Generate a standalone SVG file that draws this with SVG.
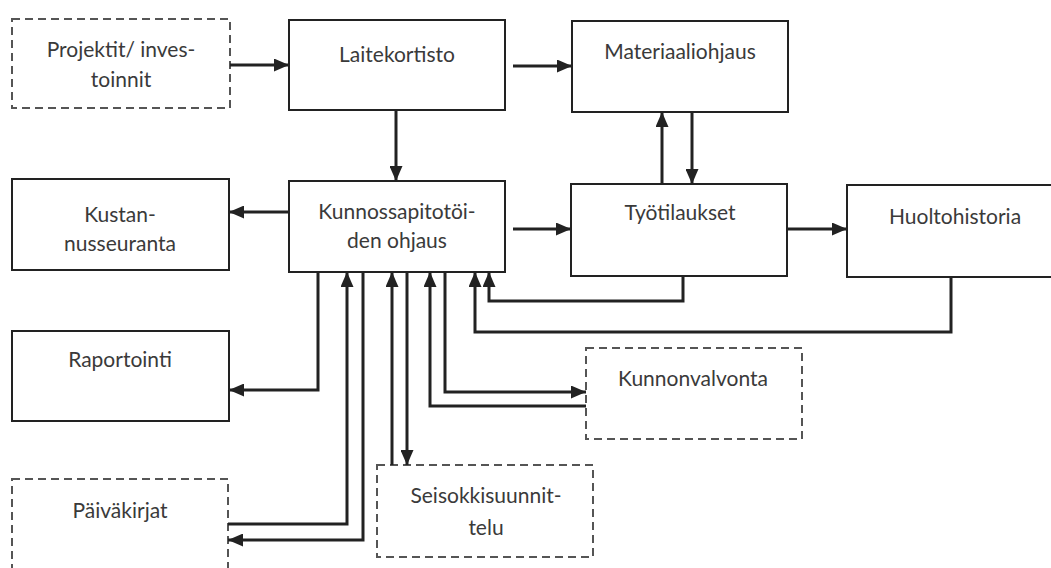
<svg xmlns="http://www.w3.org/2000/svg" width="1051" height="568" viewBox="0 0 1051 568">
<defs>
<marker id="ah" markerUnits="userSpaceOnUse" viewBox="0 0 15 13" refX="15" refY="6.5" markerWidth="15" markerHeight="13" orient="auto">
<path d="M0,0 L15,6.5 L0,13 z" fill="#222"/>
</marker>
<style>
.box{fill:#fff;stroke:#222;stroke-width:2}
.dbox{fill:#fff;stroke:#555;stroke-width:2;stroke-dasharray:8 5}
.t{font-family:Lato,"Liberation Sans",sans-serif;font-size:21px;fill:#3a3a3a;text-anchor:middle}
.c{fill:none;stroke:#222;stroke-width:3;marker-end:url(#ah)}
</style>
</defs>
<rect width="1051" height="568" fill="#fff"/>
<g id="projektit"><rect class="dbox" x="12" y="19" width="218" height="89"/><text class="t" x="121" y="57">Projektit/ inves-</text><text class="t" x="121" y="87">toinnit</text></g>
<g id="laitekortisto"><rect class="box" x="289" y="20" width="216" height="90"/><text class="t" x="397" y="62">Laitekortisto</text></g>
<g id="materiaaliohjaus"><rect class="box" x="572" y="21" width="216" height="91"/><text class="t" x="680" y="59">Materiaaliohjaus</text></g>
<g id="kustannusseuranta"><rect class="box" x="12" y="179" width="217" height="91"/><text class="t" x="120" y="222">Kustan-</text><text class="t" x="120" y="251">nusseuranta</text></g>
<g id="kunnossapito"><rect class="box" x="289" y="181" width="216" height="91"/><text class="t" x="397" y="219">Kunnossapitotöi-</text><text class="t" x="397" y="248">den ohjaus</text></g>
<g id="tyotilaukset"><rect class="box" x="571" y="184" width="216" height="92"/><text class="t" x="680" y="220">Työtilaukset</text></g>
<g id="huoltohistoria"><rect class="box" x="847" y="185" width="215" height="92"/><text class="t" x="955" y="224">Huoltohistoria</text></g>
<g id="raportointi"><rect class="box" x="12" y="331" width="217" height="90"/><text class="t" x="120" y="367">Raportointi</text></g>
<g id="kunnonvalvonta"><rect class="dbox" x="586" y="348" width="216" height="91"/><text class="t" x="693" y="386">Kunnonvalvonta</text></g>
<g id="seisokkisuunnittelu"><rect class="dbox" x="377" y="465" width="216" height="92"/><text class="t" x="486" y="503">Seisokkisuunnit-</text><text class="t" x="486" y="535">telu</text></g>
<g id="paivakirjat"><rect class="dbox" x="12" y="479" width="216" height="110"/><text class="t" x="120" y="518">Päiväkirjat</text></g>
<g id="connectors">
<path class="c" d="M230,65 H289"/>
<path class="c" d="M513,66 H572"/>
<path class="c" d="M396,110 V181"/>
<path class="c" d="M662,184 V112"/>
<path class="c" d="M692,112 V184"/>
<path class="c" d="M289,212 H229"/>
<path class="c" d="M513,229 H571"/>
<path class="c" d="M787,229 H847"/>
<path class="c" d="M683,276 V301 H489 V272"/>
<path class="c" d="M951,277 V332 H475 V272"/>
<path class="c" d="M318,272 V390 H229"/>
<path class="c" d="M445,272 V392 H586"/>
<path class="c" d="M586,406 H430 V272"/>
<path class="c" d="M392,465 V272"/>
<path class="c" d="M407,272 V465"/>
<path class="c" d="M228,524 H347 V272"/>
<path class="c" d="M363,272 V540 H228"/>
</g>
</svg>
